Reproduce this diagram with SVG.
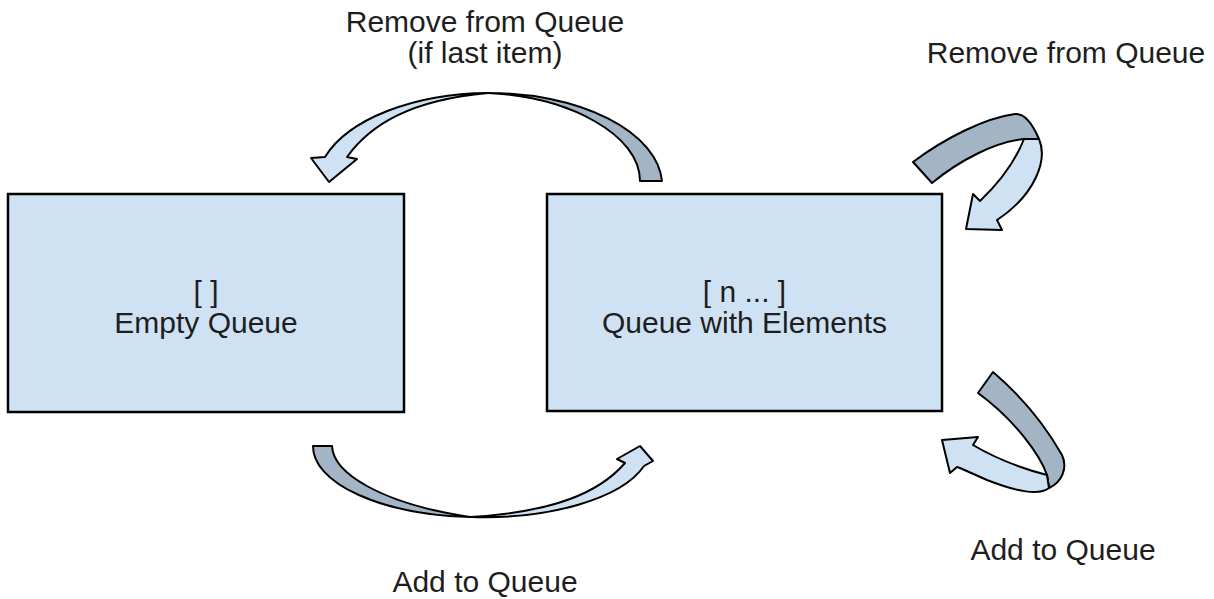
<svg xmlns="http://www.w3.org/2000/svg" width="1214" height="599" viewBox="0 0 1214 599">
<style>
.box{fill:#cfe2f3;stroke:#000;stroke-width:2.5}
.t{font-family:"Liberation Sans",Arial,sans-serif;font-size:30px;fill:#1e1e1e;text-anchor:middle}
.lt{fill:#cfe2f3;stroke:#000;stroke-width:2;stroke-linejoin:round}
.dk{fill:#a3b4c5;stroke:#000;stroke-width:2;stroke-linejoin:round}
</style>
<rect width="1214" height="599" fill="#fff"/>
<g id="node-empty">
<rect class="box" x="8" y="194" width="396" height="218"/>
<text class="t" x="206" y="302">[ ]</text>
<text class="t" x="206" y="333">Empty Queue</text>
</g>
<g id="node-elements">
<rect class="box" x="547" y="194" width="395" height="217"/>
<text class="t" x="744.5" y="302">[ n ... ]</text>
<text class="t" x="744.5" y="333">Queue with Elements</text>
</g>
<g id="connectors">
<g id="edge-remove-last">
<path class="dk" d="M640,181 L662,181 A174,93 0 0 0 488,93 C570,97 640,135 640,181 Z"/>
<path class="lt" d="M488,93 A174,93 0 0 0 325,157 L311,158 L329,182 L357,159 L347,157 C370,125 410,100 488,93 Z"/>
</g>
<g id="edge-add">
<path class="dk" d="M313,446 L332,446 C333,472 378,503 470,517 A167,71 0 0 1 313,446 Z"/>
<path class="lt" d="M470,517 A167,71 0 0 0 644,466 L653,461 L640,446 L617,459 L625,463 C600,492 555,512 470,517 Z"/>
</g>
<g id="edge-self-remove">
<path class="dk" d="M913,162 C945,138 985,118 1015,114 C1025,113 1033,125 1039,139 L1024,139 C995,142 960,160 932,183 Z"/>
<path class="lt" d="M1024,139 L1039,139 C1048,160 1035,195 997,220 L1002,230 L966,229 L973,194 L980,201 C1000,182 1015,162 1024,139 Z"/>
</g>
<g id="edge-self-add">
<path class="dk" d="M978,393 L993,372 C1020,395 1045,425 1062,455 C1068,468 1062,482 1049,488 L1047,475 C1040,455 1015,420 978,393 Z"/>
<path class="lt" d="M1047,475 L1049,488 C1040,495 1020,493 987,480 L960,468 L957,467 L950,473 L942,440 L978,437 L973,445 C995,458 1020,468 1047,475 Z"/>
</g>
<text class="t" x="485" y="32">Remove from Queue</text>
<text class="t" x="485" y="63">(if last item)</text>
<text class="t" x="1066" y="63">Remove from Queue</text>
<text class="t" x="485" y="592">Add to Queue</text>
<text class="t" x="1063" y="560">Add to Queue</text>
</g>
</svg>
